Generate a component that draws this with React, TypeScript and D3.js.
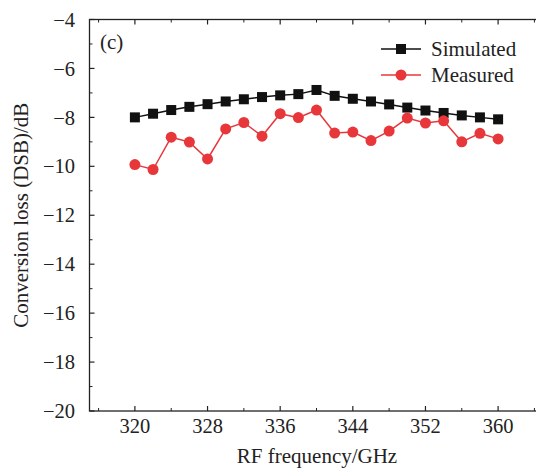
import React from "react";
import * as d3 from "d3";

// frequencies in GHz
const freqs = [320, 322, 324, 326, 328, 330, 332, 334, 336, 338, 340, 342, 344, 346, 348, 350, 352, 354, 356, 358, 360];
const simulated = [-8.0, -7.85, -7.7, -7.57, -7.46, -7.35, -7.26, -7.17, -7.1, -7.05, -6.88, -7.12, -7.24, -7.35, -7.47, -7.6, -7.72, -7.82, -7.92, -8.0, -8.08];
const measured = [-9.93, -10.13, -8.81, -9.01, -9.7, -8.47, -8.21, -8.77, -7.85, -8.01, -7.7, -8.64, -8.6, -8.95, -8.56, -8.03, -8.23, -8.14, -9.0, -8.65, -8.88];
const xTicks = [320, 328, 336, 344, 352, 360];
const xMinor = [316, 324, 332, 340, 348, 356, 364];
const yTicks = [-4, -6, -8, -10, -12, -14, -16, -18, -20];
const yMinor = [-5, -7, -9, -11, -13, -15, -17, -19];

const width = 536;
const height = 475;
const margin = { top: 19.5, left: 89.5, bottom: 411 };
const font = "'Liberation Serif', 'Times New Roman', serif";
const red = "#e8373b";
const black = "#111";

export default function App() {
  const x = d3.scaleLinear().domain([315, 365]).range([margin.left, margin.left + 50 * 9.08]);
  const y = d3.scaleLinear().domain([-20, -4]).range([margin.bottom, margin.top]);
  const right = x(365);

  const line = d3
    .line<[number, number]>()
    .x((d) => x(d[0]))
    .y((d) => y(d[1]));

  const simPts = freqs.map((f, i) => [f, simulated[i]] as [number, number]);
  const meaPts = freqs.map((f, i) => [f, measured[i]] as [number, number]);

  return (
    <svg
      width={width}
      height={height}
      style={{ position: "absolute", left: 0, top: 0, background: "#fff" }}
      fontFamily={font}
    >
      {/* frame */}
      <rect
        x={margin.left}
        y={margin.top}
        width={right - margin.left}
        height={margin.bottom - margin.top}
        fill="none"
        stroke="#222"
        strokeWidth={1.3}
      />

      {/* x ticks, bottom and top, inward */}
      {xTicks.map((t) => (
        <g key={"xt" + t}>
          <line x1={x(t)} x2={x(t)} y1={margin.bottom} y2={margin.bottom - 5} stroke="#222" strokeWidth={1.2} />
          <line x1={x(t)} x2={x(t)} y1={margin.top} y2={margin.top + 5} stroke="#222" strokeWidth={1.2} />
          <text x={x(t)} y={433} textAnchor="middle" fontSize={20.5} fill="#222">
            {t}
          </text>
        </g>
      ))}
      {xMinor.map((t) => (
        <g key={"xm" + t}>
          <line x1={x(t)} x2={x(t)} y1={margin.bottom} y2={margin.bottom - 3} stroke="#222" strokeWidth={1} />
          <line x1={x(t)} x2={x(t)} y1={margin.top} y2={margin.top + 3} stroke="#222" strokeWidth={1} />
        </g>
      ))}

      {/* y ticks */}
      {yTicks.map((t) => (
        <g key={"yt" + t}>
          <line x1={margin.left} x2={margin.left + 5} y1={y(t)} y2={y(t)} stroke="#222" strokeWidth={1.2} />
          <text x={75} y={y(t)} dy="0.35em" textAnchor="end" fontSize={20.5} fill="#222">
            {"\u2212" + Math.abs(t)}
          </text>
        </g>
      ))}
      {yMinor.map((t) => (
        <line key={"ym" + t} x1={margin.left} x2={margin.left + 3} y1={y(t)} y2={y(t)} stroke="#222" strokeWidth={1} />
      ))}

      {/* axis titles */}
      <text x={317} y={463} textAnchor="middle" fontSize={21} fill="#222">
        RF frequency/GHz
      </text>
      <text
        transform={`translate(28,${(margin.top + margin.bottom) / 2}) rotate(-90)`}
        textAnchor="middle"
        fontSize={21}
        fill="#222"
      >
        Conversion loss (DSB)/dB
      </text>

      <text x={100} y={49} fontSize={21} fill="#222">
        (c)
      </text>

      {/* series */}
      <path d={line(simPts) ?? ""} fill="none" stroke={black} strokeWidth={1.5} />
      {simPts.map((p, i) => (
        <rect key={"s" + i} x={x(p[0]) - 5} y={y(p[1]) - 5} width={10} height={10} fill={black} />
      ))}
      <path d={line(meaPts) ?? ""} fill="none" stroke={red} strokeWidth={1.5} />
      {meaPts.map((p, i) => (
        <circle key={"m" + i} cx={x(p[0])} cy={y(p[1])} r={5.5} fill={red} />
      ))}

      {/* legend */}
      <line x1={381} x2={421} y1={49} y2={49} stroke={black} strokeWidth={1.5} />
      <rect x={396} y={44} width={10} height={10} fill={black} />
      <text x={431} y={56} fontSize={21} fill="#222">
        Simulated
      </text>
      <line x1={381} x2={421} y1={75} y2={75} stroke={red} strokeWidth={1.5} />
      <circle cx={401} cy={75} r={5.5} fill={red} />
      <text x={431} y={82} fontSize={21} fill="#222">
        Measured
      </text>
    </svg>
  );
}
